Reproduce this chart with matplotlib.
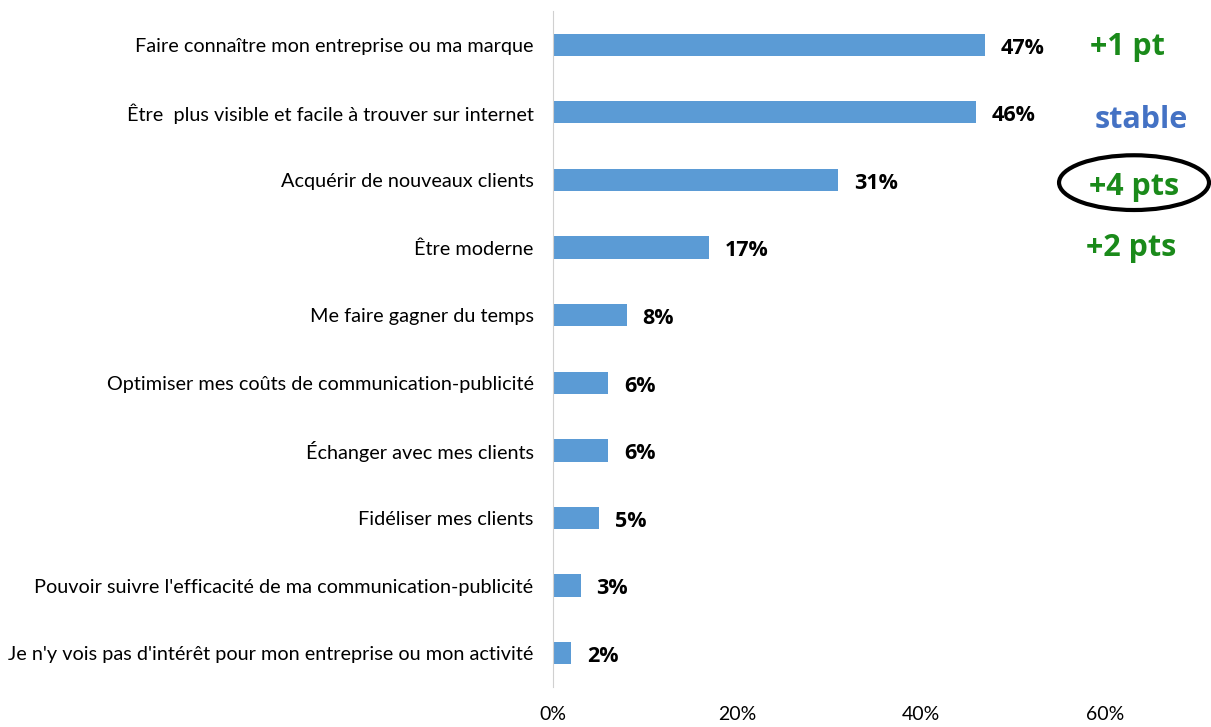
import numpy as np
from matplotlib import pyplot as plt
from matplotlib.patches import Ellipse

categories = [
    "Faire connaître mon entreprise ou ma marque",
    "Être  plus visible et facile à trouver sur internet",
    "Acquérir de nouveaux clients",
    "Être moderne",
    "Me faire gagner du temps",
    "Optimiser mes coûts de communication-publicité",
    "Échanger avec mes clients",
    "Fidéliser mes clients",
    "Pouvoir suivre l'efficacité de ma communication-publicité",
    "Je n'y vois pas d'intérêt pour mon entreprise ou mon activité",
]
values = [47, 46, 31, 17, 8, 6, 6, 5, 3, 2]
evolutions = ["+1 pt", "stable", "+4 pts", "+2 pts"]
evo_colors = ["#1a8a1a", "#4472c4", "#1a8a1a", "#1a8a1a"]
xticks = [0, 20, 40, 60]

plt.rcParams['font.family'] = ['Lato', 'DejaVu Sans']

figure = plt.figure(figsize=(12.11, 7.27), dpi=100)
axes = figure.add_axes([0.4567, 0.055, 0.4558, 0.930])

y = np.arange(len(categories))
axes.barh(y, values, height=0.33, color='#5b9bd5')

axes.set_xlim(0, 60)
axes.set_ylim(len(categories) - 0.5, -0.5)
axes.set_yticks(y)
axes.set_yticklabels(categories, fontsize=14.3)
axes.set_xticks(xticks)
axes.set_xticklabels([f'{t}%' for t in xticks], fontsize=14)
axes.tick_params(axis='both', length=0)
axes.tick_params(axis='y', pad=14)
axes.tick_params(axis='x', pad=14)

for side in ['top', 'right', 'bottom']:
    axes.spines[side].set_visible(False)
axes.spines['left'].set_color('#d0d0d0')

for i, v in enumerate(values):
    axes.text(v + 1.7, i + 0.05, f'{v}%', va='center', ha='left',
              fontsize=15.5, fontweight='bold', family=['Open Sans', 'DejaVu Sans'])

# evolutions a droite
evo_x = [62.4, 63.9, 63.15, 62.8]
evo_y = [0.03, 1.12, 2.1, 3.0]
for txt, c, ex, ey in zip(evolutions, evo_colors, evo_x, evo_y):
    axes.text(ex, ey, txt, color=c, ha='center', va='center', fontsize=22,
              fontweight='bold', family=['Open Sans', 'DejaVu Sans'], clip_on=False)

ell = Ellipse((63.15, 2.04), 16.3, 0.81, fill=False, edgecolor='black',
              linewidth=3, clip_on=False)
axes.add_patch(ell)

figure.savefig('out.png', dpi=100)
